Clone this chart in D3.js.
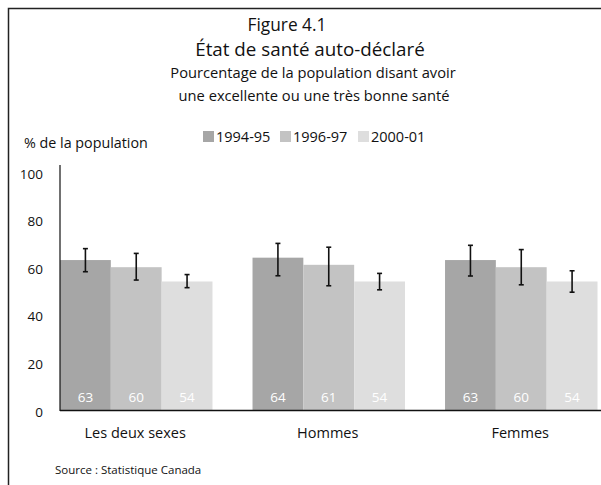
<!DOCTYPE html>
<html><head><meta charset="utf-8">
<script src="https://cdn.jsdelivr.net/npm/d3@7"></script>
<style>
body{margin:0;background:#fff;}
svg{display:block;font-family:"Open Sans",sans-serif;}
</style></head>
<body>
<svg id="chart" width="601" height="485"></svg>
<script>
const categories = ["Les deux sexes", "Hommes", "Femmes"];
const seriesNames = ["1994-95", "1996-97", "2000-01"];
const values1994 = [63, 64, 63];
const values1996 = [60, 61, 60];
const values2000 = [54, 54, 54];
const errLow1994 = [58.1, 56.4, 56.3];
const errHigh1994 = [67.8, 70.0, 69.2];
const errLow1996 = [54.6, 52.2, 52.6];
const errHigh1996 = [65.8, 68.4, 67.4];
const errLow2000 = [51.4, 50.5, 49.5];
const errHigh2000 = [56.9, 57.4, 58.5];
const yTicks = [0, 20, 40, 60, 80, 100];
const colors = ["#a6a6a6", "#c3c3c3", "#dedede"];

const values = [values1994, values1996, values2000];
const lows = [errLow1994, errLow1996, errLow2000];
const highs = [errHigh1994, errHigh1996, errHigh2000];

const rows = [];
categories.forEach((c, ci) => {
  seriesNames.forEach((s, si) => {
    rows.push({cat: c, series: s, si, value: values[si][ci], lo: lows[si][ci], hi: highs[si][ci]});
  });
});

const svg = d3.select("#chart");

// frame
svg.append("path").attr("d", "M8.5,485 V8.5 H601").attr("fill", "none").attr("stroke", "#222").attr("stroke-width", 1.5);

// titles
const title = svg.append("g").attr("text-anchor", "middle").attr("fill", "#111");
title.append("text").attr("x", 287).attr("y", 31).attr("font-size", 17.3).text("Figure 4.1");
title.append("text").attr("x", 310).attr("y", 56).attr("font-size", 18.8).text("État de santé auto-déclaré");
title.append("text").attr("x", 313).attr("y", 78).attr("font-size", 14.7).text("Pourcentage de la population disant avoir");
title.append("text").attr("x", 314).attr("y", 101).attr("font-size", 14.7).text("une excellente ou une très bonne santé");

// y label
svg.append("text").attr("x", 24).attr("y", 148).attr("font-size", 14.3).attr("fill", "#111").text("% de la population");

// legend
const leg = svg.append("g");
const legX = [203, 280, 358];
seriesNames.forEach((s, i) => {
  const g = leg.append("g").attr("transform", `translate(${legX[i]},131)`);
  g.append("rect").attr("width", 11).attr("height", 11).attr("fill", colors[i]);
  g.append("text").attr("x", 13).attr("y", 11).attr("font-size", 14.5).attr("fill", "#111").text(s);
});

const x0 = d3.scaleBand().domain(categories).range([60, 597.5]).paddingInner(0.208).paddingOuter(0);
const x1 = d3.scaleBand().domain(seriesNames).range([0, x0.bandwidth()]);
const y = d3.scaleLinear().domain([0, 100]).range([410, 172]);
const color = d3.scaleOrdinal().domain(seriesNames).range(colors);

// bars
svg.append("g").selectAll("rect").data(rows).join("rect")
  .attr("x", d => x0(d.cat) + x1(d.series))
  .attr("y", d => y(d.value))
  .attr("width", x1.bandwidth())
  .attr("height", d => y(0) - y(d.value))
  .attr("fill", d => color(d.series));

// value labels
svg.append("g").selectAll("text").data(rows).join("text")
  .attr("x", d => x0(d.cat) + x1(d.series) + x1.bandwidth() / 2)
  .attr("y", 402)
  .attr("text-anchor", "middle").attr("font-size", 13.5).attr("fill", "#fff")
  .text(d => d.value);

// error bars
const eb = svg.append("g").attr("stroke", "#111").attr("stroke-width", 1.6);
rows.forEach(d => {
  const cx = x0(d.cat) + x1(d.series) + x1.bandwidth() / 2;
  eb.append("line").attr("x1", cx).attr("x2", cx).attr("y1", y(d.hi)).attr("y2", y(d.lo));
  eb.append("line").attr("x1", cx - 2.5).attr("x2", cx + 2.5).attr("y1", y(d.hi)).attr("y2", y(d.hi));
  eb.append("line").attr("x1", cx - 2.5).attr("x2", cx + 2.5).attr("y1", y(d.lo)).attr("y2", y(d.lo));
});

// y axis
const yAxis = d3.axisLeft(y).tickValues(yTicks).tickSize(0).tickPadding(17);
const ya = svg.append("g").attr("transform", "translate(60,0)").call(yAxis);
ya.select(".domain").remove();
ya.selectAll("text").attr("font-size", 13.5).attr("fill", "#111").attr("font-family", "Open Sans, sans-serif").attr("dy", "0.45em");
svg.append("line").attr("x1", 60).attr("x2", 60).attr("y1", 165).attr("y2", 411).attr("stroke", "#111").attr("stroke-width", 1.2);
svg.append("line").attr("x1", 60).attr("x2", 601).attr("y1", 410.5).attr("y2", 410.5).attr("stroke", "#111").attr("stroke-width", 1.5);

// category labels (centred under each group)
svg.append("g").selectAll("text").data(categories).join("text")
  .attr("x", d => x0(d) + x0.bandwidth() / 2 - 1)
  .attr("y", 438)
  .attr("text-anchor", "middle").attr("font-size", 14.5).attr("fill", "#111").text(d => d);

// source
svg.append("text").attr("x", 55).attr("y", 474).attr("font-size", 11.5).attr("fill", "#111").text("Source : Statistique Canada");
</script>
</body></html>
